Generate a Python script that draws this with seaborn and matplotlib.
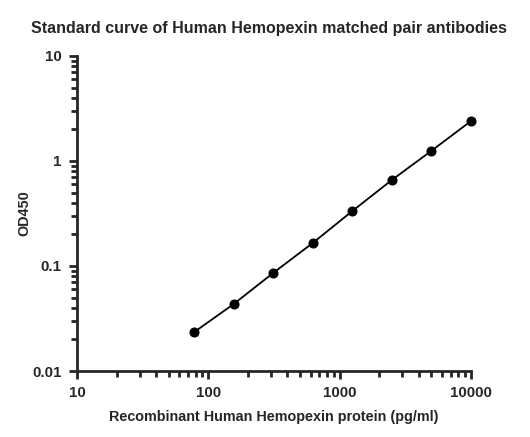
import matplotlib
matplotlib.use('Agg')
import matplotlib.pyplot as plt
import matplotlib.ticker as mticker
import pandas as pd
import seaborn as sns

# concentração (pg/ml) e leitura OD450
concentracao = [78.125, 156.25, 312.5, 625, 1250, 2500, 5000, 10000]
od450 = [0.0235, 0.0435, 0.086, 0.166, 0.334, 0.66, 1.25, 2.40]

df = pd.DataFrame({'conc': concentracao, 'od': od450})

sns.set_style('ticks')
plt.rcParams['font.family'] = ['Liberation Sans', 'DejaVu Sans']
plt.rcParams['font.weight'] = 'bold'

fig = plt.figure(figsize=(5.3, 4.37), dpi=100)
ax = fig.add_axes([0.1453, 0.151, 0.7434, 0.721])

sns.lineplot(data=df, x='conc', y='od', ax=ax, color='black', linewidth=1.3,
             marker='o', markersize=6.5, markeredgecolor='black', clip_on=False)

ax.set_xscale('log')
ax.set_yscale('log')
ax.set_xlim(10, 10000)
ax.set_ylim(0.01, 10)

ax.xaxis.set_major_locator(mticker.LogLocator(base=10))
ax.yaxis.set_major_locator(mticker.LogLocator(base=10))
ax.xaxis.set_minor_locator(mticker.LogLocator(base=10, subs=range(2, 10)))
ax.yaxis.set_minor_locator(mticker.LogLocator(base=10, subs=range(2, 10)))
ax.xaxis.set_minor_formatter(mticker.NullFormatter())
ax.yaxis.set_minor_formatter(mticker.NullFormatter())
ax.xaxis.set_major_formatter(mticker.FuncFormatter(lambda v, p: f'{v:g}'))
ax.yaxis.set_major_formatter(mticker.FuncFormatter(lambda v, p: f'{v:g}'))

for s in ['left', 'bottom']:
    ax.spines[s].set_linewidth(2)
sns.despine(ax=ax)

ax.tick_params(which='major', length=6, width=2, labelsize=10.8, pad=5)
ax.tick_params(which='minor', length=4, width=2)

ax.set_xlabel('Recombinant Human Hemopexin protein (pg/ml)', fontsize=10.4,
              fontweight='bold', labelpad=7)
ax.set_ylabel('OD450', fontsize=10.4, fontweight='bold', labelpad=1)
fig.suptitle('Standard curve of Human Hemopexin matched pair antibodies',
             fontsize=11.5, fontweight='bold', x=0.508, y=0.953)

plt.savefig('out.png', dpi=100)
